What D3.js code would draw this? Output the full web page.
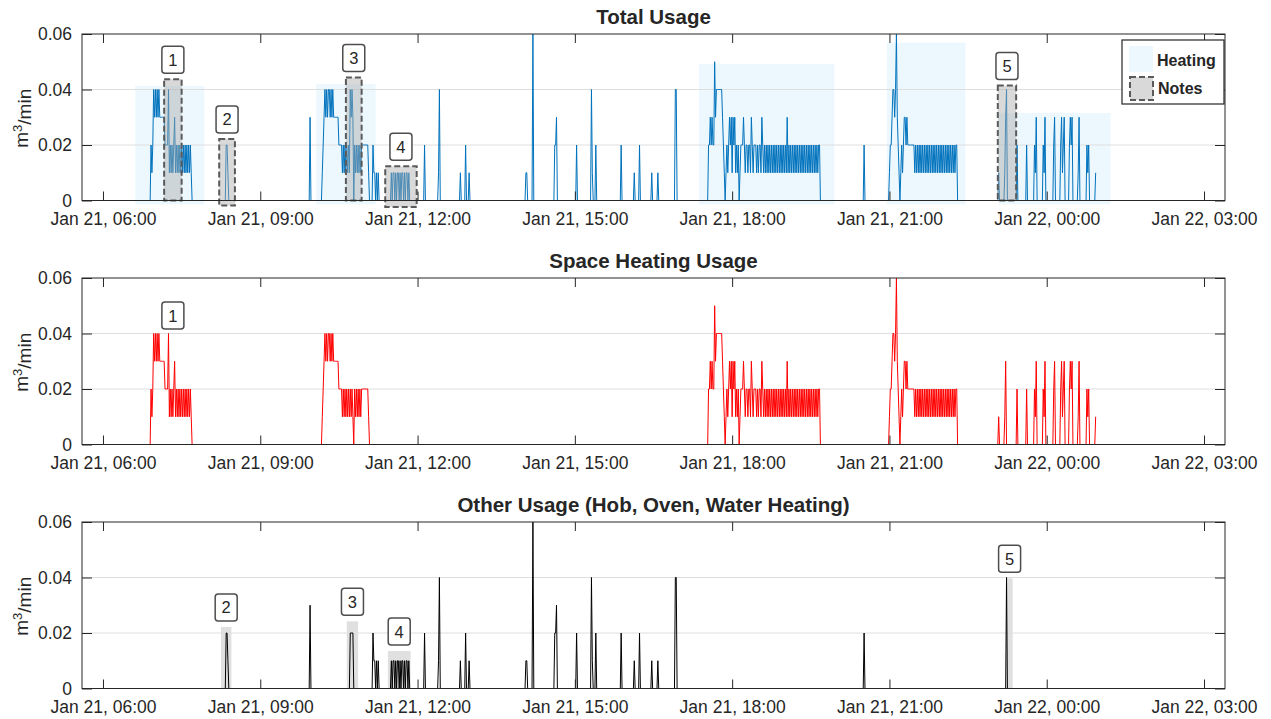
<!DOCTYPE html>
<html>
<head>
<meta charset="utf-8">
<script src="https://cdn.jsdelivr.net/npm/d3@7"></script>
<style>
  body { margin: 0; background: #fff; }
  svg text { font-family: "Liberation Sans", Arial, Helvetica, sans-serif; fill: #262626; }
</style>
</head>
<body>
<svg id="chart" width="1271" height="719"></svg>
<script>
// ---------- data ----------
// clock times; anything before 05:00 belongs to Jan 22
const axisStart = "05:36";
const axisEnd = "03:24";
const tickTimes = ["06:00", "09:00", "12:00", "15:00", "18:00", "21:00", "00:00", "03:00"];
const yTicks = [0, 0.02, 0.04, 0.06];
const recordStart = "06:54";
const recordEnd = "00:56";

// Space heating gas flow: each run starts at a clock time, one digit per minute (units of 0.01 m3/min)
const heatingRunStart = ["06:54", "10:10", "17:32", "20:58", "23:04", "23:11", "23:25", "23:36",
                         "23:45", "23:55", "00:07", "00:15", "00:25", "00:35", "00:45", "00:55"];
const heatingRunCodes = [
  "0212434343433333322224121212312121212121212121210",
  "01234343443434" + "333333" + "2222" + "1212121212121" + "0" + "2121212122" + "222222" + "10",
  "0223232253" + "4444444" + "3210" + "1" + "21232313231212012" + "2232122122" + "1321222121" +
    "221321212" + "1212121212" + "1212121212" + "121" + "3" + "1212121212" + "1212121212" +
    "1212121212" + "1212122" + "0",
  "00122344346321" + "0121233232" + "2222222" + "1212121212" + "1212121212" + "1212121212" +
    "1212121212" + "121212122" + "0",
  "010", "0130", "020", "020", "02130", "02130", "0230", "0231230", "023230", "0130", "02120", "01"
];

// Other usage (hob, oven, water heating), same encoding
const otherRunStart = ["08:20", "09:56", "10:42", "11:08", "11:29", "12:07", "12:23", "12:48", "12:54",
                       "14:03", "14:11", "14:36", "15:01", "15:18", "15:52", "16:07", "16:13", "16:27",
                       "16:34", "16:54", "20:30", "23:13"];
const otherRunCodes = ["02210", "030", "022220", "021101010", "010110101101011010110100", "020", "0140",
                       "010", "0200010", "0110", "060", "02230", "020", "04100020", "020", "010", "020",
                       "010", "010", "0440", "020", "040"];

// heating periods shaded on the total panel
const heatingPeriodStart = ["06:37", "10:04", "17:22", "20:57", "23:05"];
const heatingPeriodEnd = ["07:56", "11:12", "19:57", "22:27", "01:13"];
const heatingPeriodTop = [0.0413, 0.0419, 0.0492, 0.0569, 0.0315];
const heatingPeriodBottom = [-0.0014, -0.0014, -0.0014, -0.0014, -0.0014];

// numbered notes on the total panel
const noteIds = ["1", "2", "3", "4", "5"];
const noteStart = ["07:10", "08:13", "10:38", "11:23", "23:04"];
const noteEnd = ["07:30", "08:31", "10:56", "11:59", "23:25"];
const noteTop = [0.0437, 0.0222, 0.0443, 0.0123, 0.0414];
const noteBottom = [0, -0.0018, 0, -0.0023, 0];

// notes repeated on the other-usage panel
const otherNoteIds = ["2", "3", "4", "5"];
const otherNoteStart = ["08:15", "10:39", "11:26", "23:14"];
const otherNoteEnd = ["08:27", "10:52", "11:52", "23:21"];
const otherNoteTop = [0.0222, 0.0242, 0.0135, 0.0397];

// note on the space heating panel (label only)
const spaceNoteIds = ["1"];
const spaceNoteTime = ["07:20"];
const spaceNoteValue = [0.0416];

// ---------- helpers ----------
function minutesOf(s) {
  const [h, m] = s.split(":").map(Number);
  return h * 60 + m + (h < 5 ? 1440 : 0);
}
function toDate(s) { return new Date(2019, 0, 21, 0, minutesOf(s)); }

const startMin = minutesOf(recordStart), endMin = minutesOf(recordEnd);
const minutes = d3.range(startMin, endMin + 1);

function buildSeries(starts, codes) {
  const vals = minutes.map(() => 0);
  starts.forEach((s, i) => {
    const o = minutesOf(s) - startMin;
    [...codes[i]].forEach((c, j) => {
      if (o + j >= 0 && o + j < vals.length) vals[o + j] = +c / 100;
    });
  });
  return vals;
}
const heating = buildSeries(heatingRunStart, heatingRunCodes);
const other = buildSeries(otherRunStart, otherRunCodes);
const total = heating.map((v, i) => Math.round((v + other[i]) * 100) / 100);

const asPoints = vals => vals.map((v, i) => ({ date: new Date(2019, 0, 21, 0, minutes[i]), value: v }));

// ---------- layout ----------
const svg = d3.select("#chart");
const left = 82, right = 1225, ph = 166.5;
const ink = "#262626";

const x = d3.scaleTime().domain([toDate(axisStart), toDate(axisEnd)]).range([left, right]);
const tickDates = tickTimes.map(toDate);
const fmt = d3.timeFormat("%b %d, %H:%M");

const panels = [
  { top: 34, title: "Total Usage", data: total, color: "#0072BD" },
  { top: 278, title: "Space Heating Usage", data: heating, color: "#FF0000" },
  { top: 522, title: "Other Usage (Hob, Oven, Water Heating)", data: other, color: "#000000" }
];

panels.forEach((p, pi) => {
  const y = d3.scaleLinear().domain([0, 0.06]).range([p.top + ph, p.top]);
  const g = svg.append("g");

  // heating shading (total panel)
  if (pi === 0) {
    g.selectAll("rect.heat").data(heatingPeriodStart).join("rect")
      .attr("x", (d, i) => x(toDate(d)))
      .attr("width", (d, i) => x(toDate(heatingPeriodEnd[i])) - x(toDate(d)))
      .attr("y", (d, i) => y(heatingPeriodTop[i]))
      .attr("height", (d, i) => y(heatingPeriodBottom[i]) - y(heatingPeriodTop[i]))
      .attr("fill", "rgb(236,248,254)");
  }
  // other-usage note bands
  if (pi === 2) {
    g.selectAll("rect.band").data(otherNoteStart).join("rect")
      .attr("x", (d, i) => x(toDate(d)))
      .attr("width", (d, i) => x(toDate(otherNoteEnd[i])) - x(toDate(d)))
      .attr("y", (d, i) => y(otherNoteTop[i]))
      .attr("height", (d, i) => y(0) - y(otherNoteTop[i]))
      .attr("fill", "rgb(224,224,224)");
  }

  // grid
  g.selectAll("line.grid").data(yTicks.slice(1, -1)).join("line")
    .attr("x1", left).attr("x2", right)
    .attr("y1", d => y(d)).attr("y2", d => y(d))
    .attr("stroke", "#dedede").attr("stroke-width", 1);

  // series
  g.append("path")
    .datum(asPoints(p.data))
    .attr("fill", "none")
    .attr("stroke", p.color)
    .attr("stroke-width", 1)
    .attr("stroke-linejoin", "round")
    .attr("d", d3.line().x(d => x(d.date)).y(d => y(d.value)));

  // notes on total panel
  if (pi === 0) {
    g.selectAll("rect.note").data(noteStart).join("rect")
      .attr("x", (d, i) => x(toDate(d)))
      .attr("width", (d, i) => x(toDate(noteEnd[i])) - x(toDate(d)))
      .attr("y", (d, i) => y(noteTop[i]))
      .attr("height", (d, i) => y(noteBottom[i]) - y(noteTop[i]))
      .attr("fill", "rgba(170,170,170,0.45)")
      .attr("stroke", "#5a5a5a").attr("stroke-width", 2)
      .attr("stroke-dasharray", "6,3");
  }

  // axes (ticks point inward)
  const noLabel = () => "";
  const styleAxis = sel => {
    sel.select(".domain").remove();
    sel.selectAll(".tick line").attr("stroke", ink);
    sel.selectAll("text").attr("fill", ink).attr("font-size", 17.5)
      .attr("font-family", '"Liberation Sans", Arial, sans-serif');
  };
  svg.append("g").attr("transform", `translate(0,${p.top + ph})`)
    .call(d3.axisBottom(x).tickValues(tickDates).tickFormat(fmt).tickSizeInner(-9).tickSizeOuter(0).tickPadding(12.5))
    .call(styleAxis);
  svg.append("g").attr("transform", `translate(0,${p.top})`)
    .call(d3.axisTop(x).tickValues(tickDates).tickFormat(noLabel).tickSizeInner(-9).tickSizeOuter(0))
    .call(styleAxis);
  svg.append("g").attr("transform", `translate(${left},0)`)
    .call(d3.axisLeft(y).tickValues(yTicks).tickFormat(d => d === 0 ? "0" : d3.format(".2f")(d))
      .tickSizeInner(-10).tickSizeOuter(0).tickPadding(10))
    .call(styleAxis);
  svg.append("g").attr("transform", `translate(${right},0)`)
    .call(d3.axisRight(y).tickValues(yTicks).tickFormat(noLabel).tickSizeInner(-10).tickSizeOuter(0))
    .call(styleAxis);

  // frame
  svg.append("rect").attr("x", left).attr("y", p.top).attr("width", right - left).attr("height", ph)
    .attr("fill", "none").attr("stroke", ink).attr("stroke-width", 1);

  // title
  svg.append("text").attr("x", (left + right) / 2).attr("y", p.top - 10.5)
    .attr("text-anchor", "middle").attr("font-weight", "bold").attr("font-size", 20.5)
    .text(p.title);

  // y label
  const yl = svg.append("text")
    .attr("transform", `translate(28,${p.top + ph / 2 + 1}) rotate(-90)`)
    .attr("text-anchor", "middle").attr("font-size", 19);
  yl.append("tspan").text("m");
  yl.append("tspan").attr("dy", "-0.45em").attr("font-size", 13).text("3");
  yl.append("tspan").attr("dy", "0.45em").text("/min");

  // numbered labels
  const labels = [];
  if (pi === 0) noteIds.forEach((id, i) => labels.push({
    id, cx: (x(toDate(noteStart[i])) + x(toDate(noteEnd[i]))) / 2, bottom: y(noteTop[i]) - 6 }));
  if (pi === 1) spaceNoteIds.forEach((id, i) => labels.push({
    id, cx: x(toDate(spaceNoteTime[i])), bottom: y(spaceNoteValue[i]) }));
  if (pi === 2) otherNoteIds.forEach((id, i) => labels.push({
    id, cx: (x(toDate(otherNoteStart[i])) + x(toDate(otherNoteEnd[i]))) / 2, bottom: y(otherNoteTop[i]) - 6 }));
  const lg = svg.append("g").selectAll("g").data(labels).join("g")
    .attr("transform", d => `translate(${d.cx},${d.bottom})`);
  lg.append("rect").attr("x", -11).attr("y", -27).attr("width", 22).attr("height", 27).attr("rx", 3)
    .attr("fill", "#fff").attr("stroke", "#4d4d4d").attr("stroke-width", 1.5);
  lg.append("text").attr("x", 0).attr("y", -7.5).attr("text-anchor", "middle").attr("font-size", 16.5)
    .text(d => d.id);

  // legend
  if (pi === 0) {
    const leg = svg.append("g");
    leg.append("rect").attr("x", 1122).attr("y", 40).attr("width", 102).attr("height", 64)
      .attr("fill", "#fff").attr("stroke", ink).attr("stroke-width", 1.2);
    leg.append("rect").attr("x", 1129).attr("y", 46).attr("width", 24).attr("height", 26)
      .attr("fill", "rgb(236,248,254)");
    leg.append("rect").attr("x", 1130).attr("y", 77).attr("width", 23).attr("height", 23)
      .attr("fill", "rgba(170,170,170,0.45)").attr("stroke", "#5a5a5a").attr("stroke-width", 2)
      .attr("stroke-dasharray", "6,3");
    leg.append("text").attr("x", 1157).attr("y", 66).attr("font-size", 16).attr("font-weight", "bold").text("Heating");
    leg.append("text").attr("x", 1158).attr("y", 93.5).attr("font-size", 16).attr("font-weight", "bold").text("Notes");
  }
});
</script>
</body>
</html>
